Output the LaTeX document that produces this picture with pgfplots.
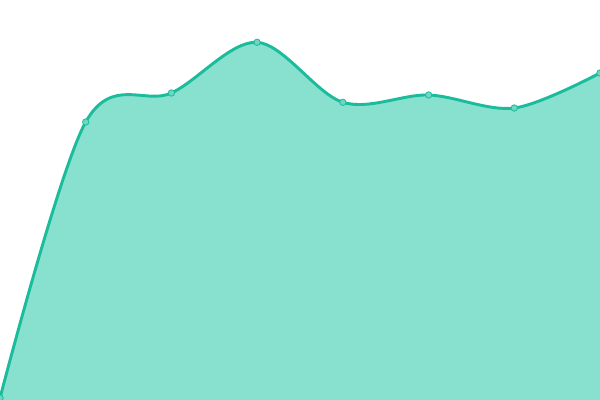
\documentclass[border=0pt]{standalone}
\usepackage{pgfplots}
\pgfplotsset{compat=1.18}
\definecolor{areafill}{RGB}{136,224,207}
\definecolor{lineclr}{RGB}{26,188,156}
\definecolor{markfill}{RGB}{110,215,195}
\begin{document}
\begin{tikzpicture}
\begin{axis}[
  name=main,
  scale only axis, width=450pt, height=300pt,
  xmin=0, xmax=600, ymin=0, ymax=400,
  hide axis, clip=true,
]
\addplot[smooth, tension=0.55, draw=none, fill=areafill] coordinates {
(0,2) (85.7,278) (171.4,307) (257.1,357.7) (342.9,297.7) (428.6,305) (514.3,292) (600,327)
} \closedcycle;
\addplot[smooth, tension=0.55, line width=2.2pt, color=lineclr, mark=*, mark size=2.4pt,
  mark options={fill=markfill, draw=lineclr, line width=0.6pt}] coordinates {
(0,2) (85.7,278) (171.4,307) (257.1,357.7) (342.9,297.7) (428.6,305) (514.3,292) (600,327)
};
\end{axis}
\pgfresetboundingbox
\useasboundingbox (main.south west) rectangle (main.north east);
\end{tikzpicture}
\end{document}
